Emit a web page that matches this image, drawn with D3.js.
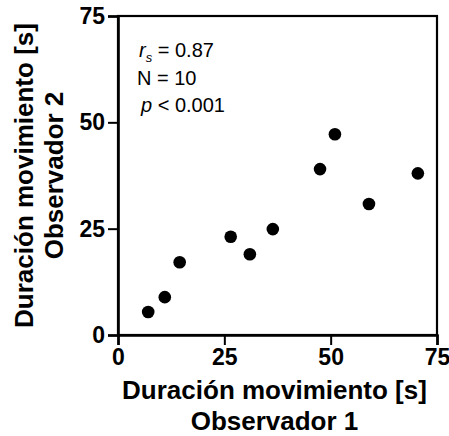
<!DOCTYPE html>
<html><head><meta charset="utf-8">
<script src="https://cdn.jsdelivr.net/npm/d3@7"></script>
<style>body{margin:0;background:#fff}</style></head>
<body><svg id="c" width="449" height="436"></svg>
<script>
const obs1 = [7.1, 11.0, 14.5, 26.5, 31.0, 36.4, 47.5, 51.0, 59.0, 70.5];
const obs2 = [5.4, 8.9, 17.1, 23.1, 19.0, 24.9, 39.0, 47.2, 30.8, 38.0];
const xTicks = [0, 25, 50, 75];
const yTicks = [0, 25, 50, 75];
const xTitle = ["Duración movimiento [s]", "Observador 1"];
const yTitle = ["Duración movimiento [s]", "Observador 2"];

const svg = d3.select("#c");
const m = {l: 118, t: 16, r: 12, b: 101};
const W = 449 - m.l - m.r, H = 436 - m.t - m.b;
const x = d3.scaleLinear().domain([0, 75]).range([0, W]);
const y = d3.scaleLinear().domain([0, 75]).range([H, 0]);
const g = svg.append("g").attr("transform", `translate(${m.l},${m.t})`);

// frame
g.append("rect").attr("x", 0).attr("y", 0).attr("width", W).attr("height", H)
  .attr("fill", "none").attr("stroke", "#000").attr("stroke-width", 2.2);

const fontB = "'Liberation Sans', Arial, sans-serif";
const xa = g.append("g").attr("transform", `translate(0,${H})`)
  .call(d3.axisBottom(x).tickValues(xTicks).tickSize(10).tickPadding(4).tickFormat(d3.format("d")));
const ya = g.append("g")
  .call(d3.axisLeft(y).tickValues(yTicks).tickSize(10).tickPadding(3).tickFormat(d3.format("d")));
[xa, ya].forEach(a => {
  a.select(".domain").attr("stroke", "#000").attr("stroke-width", 2.6);
  a.selectAll(".tick line").attr("stroke", "#000").attr("stroke-width", 2);
  a.selectAll(".tick text").attr("fill", "#000").style("font-family", fontB)
    .style("font-weight", "bold").style("font-size", "23px");
});

g.selectAll("circle.pt").data(obs1.map((v, i) => [v, obs2[i]])).enter()
  .append("circle").attr("class", "pt")
  .attr("cx", d => x(d[0])).attr("cy", d => y(d[1])).attr("r", 6.3).attr("fill", "#000");

// stats
const st = g.append("g").style("font-family", fontB).style("font-size", "20px").attr("fill", "#000");
const t1 = st.append("text").attr("x", 21).attr("y", 41);
t1.append("tspan").text("r").style("font-style", "italic");
t1.append("tspan").text("s").style("font-style", "italic").style("font-size", "13px").attr("dy", 5);
t1.append("tspan").text(" = 0.87").attr("dy", -5);
st.append("text").attr("x", 19).attr("y", 69).text("N = 10");
const t3 = st.append("text").attr("x", 23).attr("y", 96);
t3.append("tspan").text("p").style("font-style", "italic");
t3.append("tspan").text(" < 0.001");

// titles
const xt = svg.append("text").attr("text-anchor", "middle").style("font-family", fontB)
  .style("font-weight", "bold").style("font-size", "26px").attr("fill", "#000");
xt.selectAll("tspan").data(xTitle).enter().append("tspan")
  .attr("x", m.l + W / 2 - 3).attr("y", (d, i) => 399 + i * 31).text(d => d);
const yt = svg.append("text").attr("text-anchor", "middle").style("font-family", fontB)
  .style("font-weight", "bold").style("font-size", "26px").attr("fill", "#000")
  .attr("transform", `translate(0,${m.t + H / 2}) rotate(-90)`);
yt.selectAll("tspan").data(yTitle).enter().append("tspan")
  .attr("x", 0).attr("y", (d, i) => 33 + i * 30).text(d => d);
</script>
</body></html>
